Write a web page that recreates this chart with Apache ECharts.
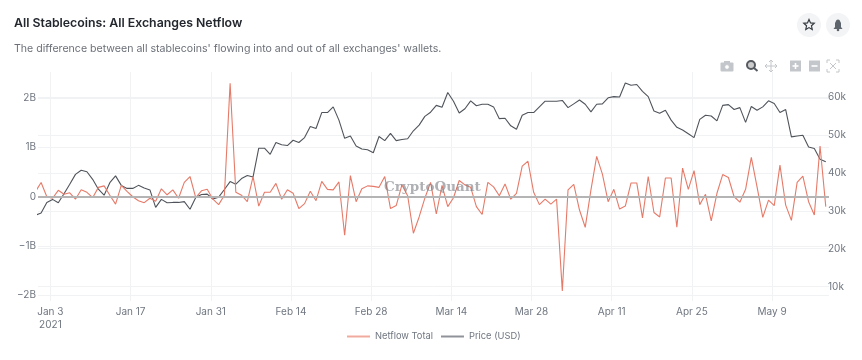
<!DOCTYPE html>
<html><head><meta charset="utf-8">
<style>html,body{margin:0;padding:0;background:#fff}#c{width:862px;height:360px}</style>
<script src="https://cdn.jsdelivr.net/npm/echarts@6/dist/echarts.min.js"></script>
</head><body><div id="c"></div>
<script>
const firstPoint = '2020-12-31T09:00:00Z';
const netflowB = [0.10,0.29,0,-0.03,0.13,0.05,0.08,-0.05,0.14,0.09,-0.02,0.19,0.22,0.03,-0.15,0.23,0.11,0,-0.08,-0.12,-0.03,-0.09,0.16,0.04,0.14,-0.03,0.29,0.41,-0.02,0.12,0.15,-0.05,-0.16,0.03,2.30,0.09,0.03,-0.10,0.41,-0.19,0.09,0.09,0.27,-0.05,0.14,0.07,-0.24,-0.14,0.11,-0.08,0.31,0.15,0.14,0.30,-0.78,0.43,-0.10,0.16,0.22,0.21,0.19,0.41,-0.24,-0.18,0.24,0.02,-0.74,-0.41,-0.03,0.29,-0.35,0.23,-0.20,-0.02,0.33,0.24,0.19,-0.20,-0.36,0.29,0.20,0.02,0.26,-0.05,0.07,0.62,0.72,0.09,-0.16,-0.05,-0.15,-0.05,-1.91,0.14,0.25,-0.27,-0.62,0.14,0.82,0.46,-0.10,0.15,-0.25,-0.19,0.28,0.28,-0.43,0.41,-0.32,-0.41,0.38,0.38,-0.62,0.58,0.15,0.53,-0.16,0.05,-0.49,0.07,0.45,0.39,0,-0.11,0.15,0.80,0.20,-0.42,-0.07,-0.18,0.64,-0.17,-0.48,0.29,0.42,-0.10,-0.37,1.03,-0.20];
const priceK = [28.8,29.4,32.2,33.0,32.1,34.5,37.0,39.6,40.7,40.3,38.3,35.7,34.1,37.4,39.2,36.7,35.9,35.9,36.7,36.0,35.5,30.9,33.0,32.1,32.2,32.2,32.4,30.4,33.5,34.3,34.4,33.1,33.6,35.6,37.7,37.0,38.5,39.3,38.9,46.5,46.5,44.9,48.0,47.4,47.2,48.6,48.0,49.3,52.2,51.7,55.9,55.9,57.4,53.9,49.1,49.7,47.1,46.3,46.1,45.3,49.6,48.5,50.4,48.5,48.8,49.0,51.1,52.6,54.9,56.0,57.8,57.3,61.2,58.9,55.8,56.9,59.0,57.7,58.1,58.1,57.4,54.3,54.4,52.4,51.5,55.2,55.9,55.9,57.4,58.9,58.9,58.9,59.1,57.2,58.2,59.2,58.1,56.1,58.1,58.2,59.8,60.1,60.0,63.7,63.1,63.3,61.5,60.1,56.3,55.7,56.5,53.9,52.0,51.3,50.3,49.3,54.1,55.2,55.0,53.7,57.8,58.0,56.7,57.2,53.3,57.5,56.5,57.4,59.0,58.3,55.9,56.7,49.5,49.7,49.9,46.8,46.4,43.6,42.9];
const xTicks = ['2021-01-03','2021-01-17','2021-01-31','2021-02-14','2021-02-28','2021-03-14','2021-03-28','2021-04-11','2021-04-25','2021-05-09'];
const leftTicks = [-2e9,-1e9,0,1e9,2e9];
const leftLabels = {'-2000000000':'\u22122B','-1000000000':'\u22121B','0':'0','1000000000':'1B','2000000000':'2B'};
const rightTicks = [10000,20000,30000,40000,50000,60000];
const xMin = Date.parse('2020-12-31T20:00:00Z'), xMax = Date.parse('2021-05-18T22:30:00Z');
const leftRange = [-2.115e9, 2.53e9], rightRange = [6200, 66600];

const DAY = 864e5, t0 = Date.parse(firstPoint);
const netflow = netflowB.map((v,i)=>[t0+i*DAY, v*1e9]);
const price = priceK.map((v,i)=>[t0+i*DAY, v*1e3]);
const xTickVals = xTicks.map(d=>Date.parse(d+'T00:00:00Z'));
const MONTHS=['Jan','Feb','Mar','Apr','May','Jun'];
const grey='#6f7680', grid='#f1f2f3';
const chart = echarts.init(document.getElementById('c'),null,{renderer:'canvas'});
const S={silent:true};
const btn=(x,y)=>({type:'circle',shape:{cx:x,cy:y,r:12},style:{fill:'#f3f4f6'},...S});
const starPts=(cx,cy,R,r)=>Array.from({length:10},(_,i)=>{const a=-Math.PI/2+i*Math.PI/5,q=i%2?r:R;return [cx+q*Math.cos(a),cy+q*Math.sin(a)];});
const tc='#c3c6ca';
const pl=(pts)=>({type:'polyline',shape:{points:pts},style:{fill:'none',stroke:tc,lineWidth:1},...S});
chart.setOption({
  useUTC:true, animation:false, backgroundColor:'#fff',
  title:[
    {text:'All Stablecoins: All Exchanges Netflow',left:14,top:17,padding:0,textStyle:{fontFamily:'Inter',fontSize:12.3,fontWeight:600,color:'#23272e'}},
    {text:"The difference between all stablecoins' flowing into and out of all exchanges' wallets.",left:14,top:43,padding:0,textStyle:{fontFamily:'Inter',fontSize:10.6,fontWeight:400,color:'#6b7078'}}
  ],
  legend:{top:331,left:347,padding:0,itemWidth:23,itemHeight:2,itemGap:8,icon:'rect',
    textStyle:{fontFamily:'Inter',fontSize:9.3,color:grey},
    data:[{name:'Netflow Total',itemStyle:{color:'#f0aa9e'}},{name:'Price (USD)',itemStyle:{color:'#8f9399'}}]},
  grid:{left:38,right:33,top:72,bottom:59},
  xAxis:{type:'value',min:xMin,max:xMax,
    axisLine:{show:false},
    axisTick:{show:false,customValues:xTickVals},
    splitLine:{show:true,lineStyle:{color:grid,width:1}},
    axisLabel:{customValues:xTickVals,color:grey,fontFamily:'Inter',fontSize:10,margin:4,lineHeight:13,hideOverlap:false,
      formatter:v=>{const d=new Date(v);const s=MONTHS[d.getUTCMonth()]+' '+d.getUTCDate();return v===xTickVals[0]?s+'\n'+d.getUTCFullYear():s;}}},
  yAxis:[
    {type:'value',min:leftRange[0],max:leftRange[1],axisLine:{show:false},
     axisTick:{show:false,customValues:leftTicks},splitLine:{show:true,lineStyle:{color:grid}},
     axisLabel:{customValues:leftTicks,color:grey,fontFamily:'Inter',fontSize:10,margin:2,formatter:v=>leftLabels[String(v)]}},
    {type:'value',position:'right',min:rightRange[0],max:rightRange[1],axisLine:{show:false},
     axisTick:{show:false,customValues:rightTicks},splitLine:{show:true,lineStyle:{color:grid}},
     axisLabel:{customValues:rightTicks,color:grey,fontFamily:'Inter',fontSize:10,margin:-1,formatter:v=>(v/1000)+'k'}}
  ],
  series:[
    {name:'Netflow Total',type:'line',yAxisIndex:0,data:netflow,showSymbol:false,symbol:'none',clip:true,z:3,
     lineStyle:{color:'#e67a68',width:1.1},
     markLine:{silent:true,symbol:'none',label:{show:false},animation:false,lineStyle:{color:'#b4b4b4',width:2,type:'solid'},data:[{yAxis:0}],z:4}},
    {name:'Price (USD)',type:'line',yAxisIndex:1,data:price,showSymbol:false,symbol:'none',clip:true,z:2,
     lineStyle:{color:'#4f545b',width:1.1}}
  ],
  graphic:[
    {type:'text',x:384,y:180,z:5,...S,style:{text:'CryptoQuant',fontFamily:'DejaVu Serif',fontWeight:'bold',fontSize:13.5,fill:'rgba(120,124,130,0.6)'}},
    btn(809,25),btn(838,25),
    {type:'polygon',shape:{points:starPts(809,25,5.5,2.6)},style:{fill:'none',stroke:'#343a40',lineWidth:1.2},...S},
    {type:'polygon',shape:{points:[[833.5,29],[835,27],[835,23],[836.5,20],[838,19.5],[839.5,20],[841,23],[841,27],[842.5,29]]},style:{fill:'#5f656c'},...S},
    {type:'circle',shape:{cx:838,cy:30,r:1.3},style:{fill:'#5f656c'},...S},
    {type:'rect',shape:{x:720.5,y:62.5,width:13,height:9,r:1},style:{fill:tc},...S},
    {type:'rect',shape:{x:724,y:61,width:6,height:2},style:{fill:tc},...S},
    {type:'circle',shape:{cx:727,cy:67,r:2.4},style:{fill:'#fff',stroke:tc},...S},
    {type:'circle',shape:{cx:751,cy:65,r:4},style:{fill:'#ccc',stroke:'#555a60',lineWidth:2},...S},
    {type:'line',shape:{x1:754,y1:68,x2:757.5,y2:71},style:{stroke:'#555a60',lineWidth:2},...S},
    {type:'line',shape:{x1:765,y1:66,x2:777,y2:66},style:{stroke:tc,lineWidth:1},...S},
    {type:'line',shape:{x1:771,y1:60,x2:771,y2:72},style:{stroke:tc,lineWidth:1},...S},
    pl([[769,62],[771,60],[773,62]]),pl([[769,70],[771,72],[773,70]]),pl([[767,64],[765,66],[767,68]]),pl([[775,64],[777,66],[775,68]]),
    {type:'rect',shape:{x:790,y:60.5,width:11,height:11},style:{fill:tc},...S},
    {type:'rect',shape:{x:792.5,y:65.2,width:6,height:1.6},style:{fill:'#fff'},...S},
    {type:'rect',shape:{x:794.7,y:63,width:1.6,height:6},style:{fill:'#fff'},...S},
    {type:'rect',shape:{x:809,y:60.5,width:11,height:11},style:{fill:tc},...S},
    {type:'rect',shape:{x:811.5,y:65.2,width:6,height:1.6},style:{fill:'#fff'},...S},
    pl([[827,63],[827,60],[830,60]]),pl([[836,60],[839,60],[839,63]]),pl([[839,69],[839,72],[836,72]]),pl([[830,72],[827,72],[827,69]]),
    pl([[830,63],[836,69]]),pl([[836,63],[830,69]])
  ]
});
chart.setOption({legend:{top:332}});
</script></body></html>
